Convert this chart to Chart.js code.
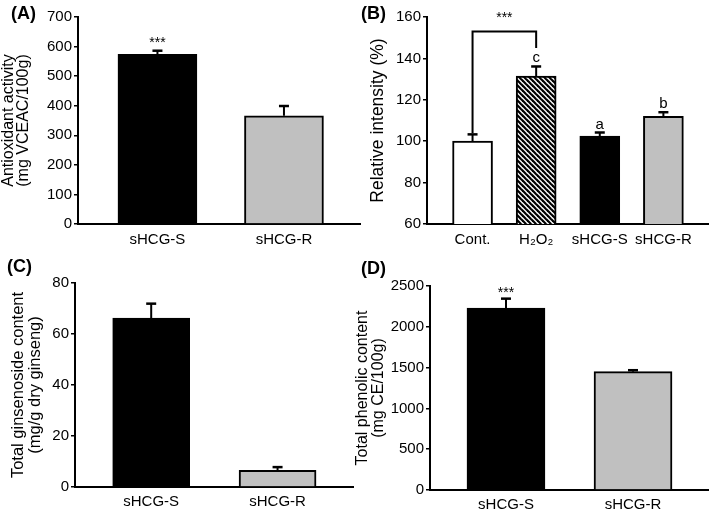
<!DOCTYPE html>
<html><head><meta charset="utf-8">
<script src="https://cdn.jsdelivr.net/npm/chart.js@4/dist/chart.umd.min.js"></script>
<style>
html,body{margin:0;padding:0;background:#fff;width:709px;height:513px;overflow:hidden;font-family:"Liberation Sans",Arial,sans-serif;}
canvas{position:absolute;}
.lab{position:absolute;font-weight:bold;font-size:18px;line-height:18px;color:#000;font-family:"Liberation Sans",Arial,sans-serif;}
</style></head><body>
<canvas id="cA" width="362" height="250" style="left:0;top:0"></canvas>
<canvas id="cB" width="347" height="250" style="left:362px;top:0"></canvas>
<canvas id="cC" width="355" height="263" style="left:0;top:250px"></canvas>
<canvas id="cD" width="359" height="263" style="left:350px;top:250px"></canvas>
<div class="lab" style="left:11px;top:4px">(A)</div>
<div class="lab" style="left:361px;top:4px">(B)</div>
<div class="lab" style="left:7px;top:257px">(C)</div>
<div class="lab" style="left:361px;top:259px">(D)</div>
<script>
// ---- data ----
const catsA = ['sHCG-S', 'sHCG-R'];
const valsA = [574, 366];
const errsA = [12, 33];
const sigA = ['***', ''];

const catsB = ['Cont.', 'H\u2082O\u2082', 'sHCG-S', 'sHCG-R'];
const valsB = [100, 131.5, 102.5, 112];
const errsB = [3.3, 4.6, 1.7, 2.0];
const lettersB = ['', 'c', 'a', 'b'];
const bracketB = [104, 153, 145]; // left foot, top, right foot (Cont. vs H2O2)
const bracketStarB = 157.5;

const catsC = ['sHCG-S', 'sHCG-R'];
const valsC = [66.2, 6.5];
const errsC = [5.7, 1.3];

const catsD = ['sHCG-S', 'sHCG-R'];
const valsD = [2230, 1450];
const errsD = [115, 18];
const sigD = ['***', ''];

const FONT = '"Liberation Sans", Arial, sans-serif';
const GRAY = '#c0c0c0';

function hatch() {
  const s = 5, c = document.createElement('canvas');
  c.width = s; c.height = s;
  const g = c.getContext('2d');
  g.fillStyle = '#fff'; g.fillRect(0, 0, s, s);
  g.strokeStyle = '#000'; g.lineWidth = 2.2;
  for (let k = -1; k <= 1; k++) {
    g.beginPath(); g.moveTo(k * s - 1, -1); g.lineTo(k * s + s + 1, s + 1); g.stroke();
  }
  return g.createPattern(c, 'repeat');
}

function deco(errs, notes, noteFont, noteGap, bracket) {
  return {
    id: 'deco',
    afterDatasetsDraw(chart) {
      const ctx = chart.ctx, ys = chart.scales.y, xs = chart.scales.x;
      const meta = chart.getDatasetMeta(0), data = chart.data.datasets[0].data;
      ctx.save();
      ctx.strokeStyle = '#000'; ctx.fillStyle = '#000';
      meta.data.forEach((bar, i) => {
        const top = ys.getPixelForValue(data[i].y + errs[i]);
        ctx.lineWidth = 2;
        ctx.beginPath(); ctx.moveTo(bar.x, bar.y); ctx.lineTo(bar.x, top); ctx.stroke();
        ctx.lineWidth = 2.5;
        ctx.beginPath(); ctx.moveTo(bar.x - 5, top); ctx.lineTo(bar.x + 5, top); ctx.stroke();
        if (notes && notes[i]) {
          ctx.font = noteFont; ctx.textAlign = 'center'; ctx.textBaseline = 'alphabetic';
          ctx.fillText(notes[i], bar.x, top - noteGap);
        }
      });
      if (bracket) {
        const x0 = xs.getPixelForValue(bracket.a), x1 = xs.getPixelForValue(bracket.b);
        ctx.lineWidth = 2;
        ctx.beginPath();
        ctx.moveTo(x0, ys.getPixelForValue(bracket.v[0]));
        ctx.lineTo(x0, ys.getPixelForValue(bracket.v[1]));
        ctx.lineTo(x1, ys.getPixelForValue(bracket.v[1]));
        ctx.lineTo(x1, ys.getPixelForValue(bracket.v[2]));
        ctx.stroke();
        ctx.font = '14px ' + FONT; ctx.textAlign = 'center'; ctx.textBaseline = 'alphabetic';
        ctx.fillText(bracket.text, (x0 + x1) / 2, ys.getPixelForValue(bracket.star));
      }
      ctx.restore();
    }
  };
}

function make(id, o) {
  const data = o.vals.map((v, i) => ({ x: i, y: v }));
  new Chart(document.getElementById(id), {
    type: 'bar',
    data: {
      datasets: [{
        data: data,
        backgroundColor: o.colors,
        borderColor: '#000',
        borderWidth: 2,
        borderSkipped: 'start',
        barThickness: o.barW
      }]
    },
    options: {
      responsive: false,
      animation: false,
      events: [],
      layout: { padding: { top: o.padTop, right: o.padRight, left: 0, bottom: 0 } },
      plugins: { legend: { display: false }, tooltip: { enabled: false } },
      scales: {
        x: {
          type: 'linear', offset: false,
          min: o.xmin, max: o.xmax,
          afterBuildTicks: s => { s.ticks = o.cats.map((c, i) => ({ value: i })); },
          afterFit: s => { s.height = o.xH; },
          grid: { display: false, drawTicks: false, tickLength: 0 },
          border: { display: true, color: '#000', width: 2 },
          ticks: {
            autoSkip: false, maxRotation: 0, padding: o.xPad, color: '#000',
            font: { family: FONT, size: 15 },
            callback: v => o.cats[v]
          }
        },
        y: {
          min: o.ymin, max: o.ymax,
          afterFit: s => { s.width = o.yW; },
          grid: { display: true, drawOnChartArea: false, drawTicks: true, tickLength: 4, color: '#000', lineWidth: 1.5 },
          border: { display: true, color: '#000', width: 2 },
          ticks: { stepSize: o.step, padding: 2, color: '#000', font: { family: FONT, size: 15 }, callback: v => String(v) },
          title: {
            display: true, text: o.title, color: '#000',
            font: { family: FONT, size: o.tSize, lineHeight: o.tLH + 'px' },
            padding: { top: o.tPad, bottom: 0 }
          }
        }
      }
    },
    plugins: [deco(o.errs, o.notes, o.noteFont, o.noteGap, o.bracket)]
  });
}

make('cA', {
  cats: catsA, vals: valsA, errs: errsA, notes: sigA, noteFont: '14px ' + FONT, noteGap: 4,
  colors: ['#000', GRAY], barW: 79, xmin: -0.628, xmax: 1.601,
  ymin: 0, ymax: 700, step: 100, padTop: 17, padRight: 2, xH: 26, xPad: 7, yW: 78,
  title: ['Antioxidant activity', '(mg VCEAC/100g)'], tSize: 16, tLH: 15, tPad: 1
});

make('cB', {
  cats: catsB, vals: valsB, errs: errsB, notes: lettersB, noteFont: '15px ' + FONT, noteGap: 4,
  colors: ['#fff', hatch(), '#000', GRAY], barW: 40, xmin: -0.716, xmax: 3.717,
  ymin: 60, ymax: 160, step: 20, padTop: 17, padRight: 0, xH: 26, xPad: 7, yW: 65,
  title: 'Relative intensity (%)', tSize: 17.5, tLH: 19, tPad: 7,
  bracket: { a: 0, b: 1, v: bracketB, star: bracketStarB, text: '***' }
});

make('cC', {
  cats: catsC, vals: valsC, errs: errsC, notes: null,
  colors: ['#000', GRAY], barW: 77, xmin: -0.603, xmax: 1.597,
  ymin: 0, ymax: 80, step: 20, padTop: 33, padRight: 2, xH: 26, xPad: 6, yW: 75,
  title: ['Total ginsenoside content', '(mg/g dry ginseng)'], tSize: 16.5, tLH: 17, tPad: 10
});

make('cD', {
  cats: catsD, vals: valsD, errs: errsD, notes: sigD, noteFont: '14px ' + FONT, noteGap: 2,
  colors: ['#000', GRAY], barW: 78, xmin: -0.598, xmax: 1.598,
  ymin: 0, ymax: 2500, step: 500, padTop: 36, padRight: 0, xH: 23, xPad: 6, yW: 80,
  title: ['Total phenolic content', '(mg CE/100g)'], tSize: 16, tLH: 16, tPad: 5
});
</script>
</body></html>
